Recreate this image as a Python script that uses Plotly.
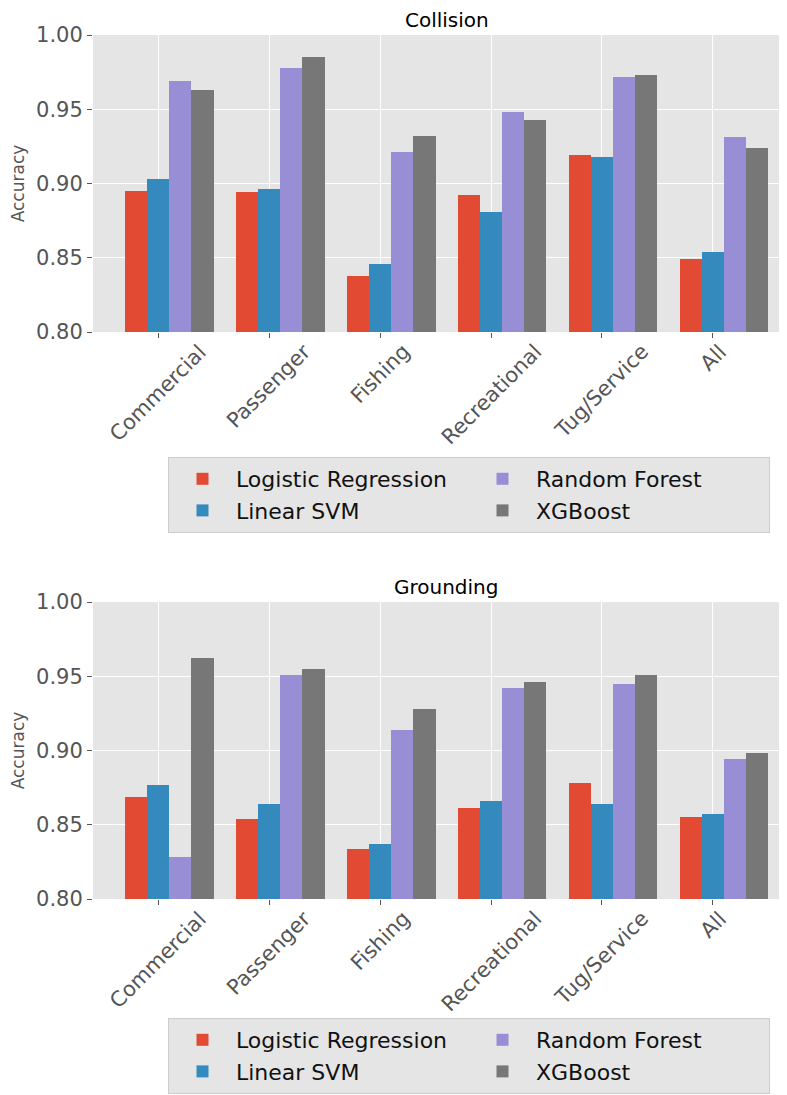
import plotly.graph_objects as go

categories = ["Commercial", "Passenger", "Fishing", "Recreational", "Tug/Service", "All"]
models = ["Logistic Regression", "Linear SVM", "Random Forest", "XGBoost"]

collision_lr = [0.895, 0.894, 0.838, 0.892, 0.919, 0.849]
collision_svm = [0.903, 0.896, 0.846, 0.881, 0.918, 0.854]
collision_rf = [0.969, 0.978, 0.921, 0.948, 0.972, 0.931]
collision_xgb = [0.963, 0.985, 0.932, 0.943, 0.973, 0.924]

grounding_lr = [0.869, 0.854, 0.834, 0.861, 0.878, 0.855]
grounding_svm = [0.877, 0.864, 0.837, 0.866, 0.864, 0.857]
grounding_rf = [0.828, 0.951, 0.914, 0.942, 0.945, 0.894]
grounding_xgb = [0.962, 0.955, 0.928, 0.946, 0.951, 0.898]

colors = ["#E24A33", "#348ABD", "#988ED5", "#777777"]
offsets = [-0.3, -0.1, 0.1, 0.3]
ranks = [1, 3, 2, 4]

# page places the figure div 8px in from the top-left (default body margin)
OFF = 8
W, H = 787 - OFF, 1095 - OFF
L = 93 - OFF
PW = W - L

def py(px):
    return 1 - (px - OFF) / H

def pxx(px):
    return (px - OFF - L) / PW

fig = go.Figure()

panels = [
    ("x", "y", "legend", [collision_lr, collision_svm, collision_rf, collision_xgb]),
    ("x2", "y2", "legend2", [grounding_lr, grounding_svm, grounding_rf, grounding_xgb]),
]
for xa, ya, lg, series in panels:
    for i, (name, vals) in enumerate(zip(models, series)):
        fig.add_trace(go.Bar(
            x=categories, y=vals, name=name, xaxis=xa, yaxis=ya, legend=lg,
            marker=dict(color=colors[i], line=dict(width=0)),
            width=0.2, offset=offsets[i], legendrank=ranks[i],
        ))

tickfont = dict(family="DejaVu Sans", size=21, color="#555555")
axis_common = dict(showline=False, zeroline=False, gridcolor="white", gridwidth=1.2,
                   ticks="outside", ticklen=5, tickcolor="#555555", tickwidth=1,
                   automargin=False)

panel_px = [(35, 332), (602, 899)]
for k, (top, bot) in enumerate(panel_px):
    suffix = "" if k == 0 else "2"
    fig.update_layout(**{
        "xaxis" + suffix: dict(axis_common, domain=[0, 1], anchor="y" + suffix,
                               type="category", range=[-0.586, 5.667],
                               showticklabels=False, showgrid=True),
        "yaxis" + suffix: dict(axis_common, domain=[py(bot), py(top)], anchor="x" + suffix,
                               range=[0.80, 1.00], dtick=0.05, tickformat=".2f",
                               tickfont=tickfont, showgrid=True,
                               title=dict(text="Accuracy", standoff=8,
                                          font=dict(family="DejaVu Sans", size=17, color="#555555"))),
    })
    for c in categories:
        fig.add_annotation(x=c, y=py(bot + 5), xref="x" + suffix, yref="paper",
                           text=c, showarrow=False, textangle=-45,
                           xanchor="center", yanchor="top", font=tickfont)

titles = ["Collision", "Grounding"]
for (top, bot), t in zip(panel_px, titles):
    fig.add_annotation(x=pxx(447), y=py(top - 15), xref="paper", yref="paper",
                       text=t, showarrow=False, xanchor="center", yanchor="middle",
                       borderpad=0,
                       font=dict(family="DejaVu Sans", size=20, color="black"))

legend_common = dict(orientation="h", xanchor="left",
                     bgcolor="#E5E5E5", bordercolor="#CCCCCC", borderwidth=1,
                     font=dict(family="DejaVu Sans", size=22, color="#111111"),
                     entrywidth=228, entrywidthmode="pixels", itemwidth=57,
                     traceorder="normal")
fig.update_layout(
    width=W, height=H,
    margin=dict(l=L, r=0, t=0, b=0),
    paper_bgcolor="white", plot_bgcolor="#E5E5E5",
    barmode="overlay", bargap=0,
    font=dict(family="DejaVu Sans"),
    legend=dict(legend_common, x=pxx(168), y=py(457), yanchor="top"),
    legend2=dict(legend_common, x=pxx(168), y=py(1094), yanchor="bottom"),
    showlegend=True,
)

fig.write_html("out.html")
